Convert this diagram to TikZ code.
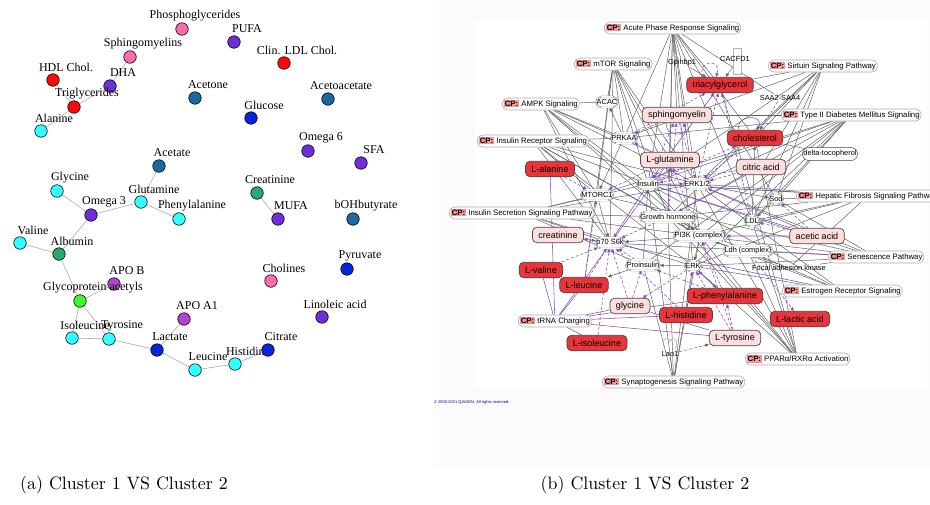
\documentclass[tikz,border=0pt]{standalone}
\usepackage{fontspec}
\usetikzlibrary{shapes.misc,shapes.geometric,arrows.meta,calc}
\newfontfamily\timesf{Liberation Serif}
\newfontfamily\arialf{Liberation Sans}
\definecolor{cpink}{RGB}{248,108,170}
\definecolor{cpurple}{RGB}{108,48,214}
\definecolor{cred}{RGB}{255,8,8}
\definecolor{ccyan}{RGB}{50,255,255}
\definecolor{csteel}{RGB}{28,104,160}
\definecolor{cblue}{RGB}{10,36,222}
\definecolor{cgreen}{RGB}{40,170,110}
\definecolor{clime}{RGB}{60,250,40}
\definecolor{cmag}{RGB}{175,70,200}
\definecolor{molred}{RGB}{232,52,58}
\definecolor{molpink}{RGB}{252,222,222}
\definecolor{cptagc}{RGB}{244,150,150}
\definecolor{purp}{RGB}{128,80,190}
\definecolor{edgegray}{RGB}{100,100,100}
\newcommand\cpt{{\setlength{\fboxsep}{1pt}\colorbox{cptagc}{\bfseries CP:}}}
\pgfdeclarelayer{bgl}
\pgfdeclarelayer{edl}
\pgfsetlayers{bgl,edl,main}
\tikzset{
 amol/.style={circle, draw=black, line width=0.6pt, minimum size=12.5pt, inner sep=0pt},
 alab/.style={font=\timesf\fontsize{12}{13}\selectfont, inner sep=0pt},
 aedge/.style={draw=gray!65, line width=0.6pt},
 mbox/.style={rounded corners=4.5pt, draw=gray!55!black, line width=0.7pt, font=\arialf\fontsize{9}{10}\selectfont, inner xsep=6pt, inner ysep=0pt, minimum height=15.5pt},
 mred/.style={mbox, fill=molred},
 mpink/.style={mbox, fill=molpink},
 prot/.style={rounded rectangle, draw=gray!55!black, double=white, double distance=0.7pt, line width=0.3pt, fill=white, inner xsep=0pt, inner ysep=1pt, minimum height=11pt, font=\arialf\fontsize{7.4}{8}\selectfont},
 protS/.style={rounded rectangle, draw=gray!55!black, line width=0.5pt, fill=white, inner xsep=0pt, inner ysep=1pt, minimum height=13pt, font=\arialf\fontsize{7.4}{8}\selectfont},
 ptext/.style={font=\arialf\fontsize{7.4}{8}\selectfont, inner sep=1pt},
 cpn/.style={rounded rectangle, draw=gray!65, line width=0.6pt, fill=white, inner xsep=0pt, inner ysep=1.5pt, minimum height=12pt, anchor=west, font=\arialf\fontsize{7.8}{8.5}\selectfont},
 ge/.style={draw=edgegray, line width=0.5pt},
 gea/.style={ge, -{Triangle[width=3.2pt,length=3.6pt]}},
 gda/.style={gea, dash pattern=on 3pt off 2pt},
 pe/.style={draw=purp, line width=0.55pt},
 pea/.style={pe, -{Triangle[width=3.2pt,length=3.6pt]}},
 ped/.style={pea, dash pattern=on 3pt off 2pt},
}
\newcommand\anode[5]{\node[amol,fill=#4] (#1) at (#2,#3) {}; \node[alab] (#1l) at ($(#1)+(13,-13)$) {#5};}
\begin{document}
\begin{tikzpicture}[x=1pt,y=-1pt]
\begin{pgfonlayer}{bgl}
\fill[white] (0,0) rectangle (930,504);
\fill[gray!3] (433,0) rectangle (930,468);
\fill[white] (475,20) rectangle (927,388);
\end{pgfonlayer}
\useasboundingbox (0,0) rectangle (930,504);

% ---------------- panel (a)
\anode{aPhos}{182}{29}{cpink}{Phosphoglycerides}
\anode{aPUFA}{234}{42}{cpurple}{PUFA}
\anode{aLDL}{284}{63}{cred}{Clin. LDL Chol.}
\anode{aSph}{130}{57}{cpink}{Sphingomyelins}
\anode{aHDL}{53}{80}{cred}{HDL Chol.}
\anode{aDHA}{110}{86}{cpurple}{DHA}
\anode{aTG}{74}{107}{cred}{Triglycerides}
\anode{aAla}{41}{131}{ccyan}{Alanine}
\anode{aAcetone}{195}{98}{csteel}{Acetone}
\anode{aGlc}{251}{118}{cblue}{Glucose}
\anode{aAcac}{328}{99}{csteel}{Acetoacetate}
\anode{aO6}{308}{151}{cpurple}{Omega 6}
\anode{aSFA}{361}{163}{cpurple}{SFA}
\anode{aAcetate}{159}{166}{csteel}{Acetate}
\anode{aGly}{57}{191}{ccyan}{Glycine}
\anode{aGln}{141}{202}{ccyan}{Glutamine}
\anode{aO3}{91}{215}{cpurple}{Omega 3}
\anode{aPhe}{179}{219}{ccyan}{Phenylalanine}
\anode{aCrea}{257}{193}{cgreen}{Creatinine}
\anode{aMUFA}{278}{219}{cpurple}{MUFA}
\anode{aBOH}{353}{219}{csteel}{bOHbutyrate}
\anode{aVal}{20}{243}{ccyan}{Valine}
\anode{aAlb}{59}{254}{cgreen}{Albumin}
\anode{aApoB}{114}{284}{cmag}{APO B}
\anode{aGlyc}{80}{301}{clime}{Glycoprotein acetyls}
\anode{aApoA}{184}{319}{cmag}{APO A1}
\anode{aIle}{72}{338}{ccyan}{Isoleucine}
\anode{aTyr}{109}{339}{ccyan}{Tyrosine}
\anode{aLac}{157}{350}{cblue}{Lactate}
\anode{aLeu}{195}{370}{ccyan}{Leucine}
\anode{aHis}{235}{364}{ccyan}{Histidine}
\anode{aCit}{268}{350}{cblue}{Citrate}
\anode{aChol}{271}{281}{cpink}{Cholines}
\anode{aPyr}{347}{269}{cblue}{Pyruvate}
\anode{aLin}{322}{317}{cpurple}{Linoleic acid}

\begin{pgfonlayer}{edl}
\draw[aedge] (aHDL) -- (aTG);
\draw[aedge] (aTG) -- (aDHA);
\draw[aedge] (aTG) -- (aAla);
\draw[aedge] (aDHA) -- (aSph);
\draw[aedge] (aAcetate) -- (aGln);
\draw[aedge] (aGly) -- (aO3);
\draw[aedge] (aO3) -- (aGln);
\draw[aedge] (aGln) -- (aPhe);
\draw[aedge] (aO3) -- (aAlb);
\draw[aedge] (aVal) -- (aAlb);
\draw[aedge] (aAlb) -- (aGlyc);
\draw[aedge] (aGlyc) -- (aApoB);
\draw[aedge] (aGlyc) -- (aIle);
\draw[aedge] (aGlyc) -- (aTyr);
\draw[aedge] (aIle) -- (aTyr);
\draw[aedge] (aTyr) -- (aLac);
\draw[aedge] (aLac) -- (aApoA);
\draw[aedge] (aLac) -- (aLeu);
\draw[aedge] (aLeu) -- (aHis);
\draw[aedge] (aHis) -- (aCit);
\draw[aedge] (aCrea) -- (aMUFA);
\end{pgfonlayer}

% ---------------- panel (b)
\node[mred] (triacyl) at (720,85) {triacylglycerol};
\node[mpink] (sphingo) at (677,115) {sphingomyelin};
\node[mred] (chol) at (755,138) {cholesterol};
\node[mpink] (glut) at (670,160) {L-glutamine};
\node[mpink] (citric) at (761,167) {citric acid};
\node[mred] (alanine) at (550,169) {L-alanine};
\node[mpink] (creat) at (558,235) {creatinine};
\node[mred] (valine) at (541,270) {L-valine};
\node[mred] (leucine) at (584,285) {L-leucine};
\node[mpink] (glycine) at (630,306) {glycine};
\node[mred] (phenyl) at (725,296) {L-phenylalanine};
\node[mpink] (acetic) at (817,236) {acetic acid};
\node[mred] (histid) at (686,315) {L-histidine};
\node[mred] (lactic) at (800,319) {L-lactic acid};
\node[mpink] (tyros) at (735,338) {L-tyrosine};
\node[mred] (isoleu) at (597,343) {L-isoleucine};

\node[prot] (ACAC) at (607,102) {ACAC};
\node[prot] (PRKAA) at (624,138) {PRKAA};
\node[prot] (Insulin) at (648,184) {Insulin};
\node[prot] (ERK12) at (697,184) {ERK1/2};
\node[prot] (MTORC1) at (597,195) {MTORC1};
\node[prot] (GH) at (668,217) {Growth hormone};
\node[prot] (p70) at (610,243) {p70 S6k};
\node[prot] (PI3K) at (700,236) {PI3K (complex)};
\node[prot] (LDL) at (752,221) {LDL};
\node[prot] (Sod) at (776,199) {Sod};
\node[prot] (Ldh) at (748,251) {Ldh (complex)};
\node[prot] (ERK) at (693,266) {ERK};
\node[prot] (Proins) at (643,265) {Proinsulin};
\node[protS] (delta) at (830,154) {delta-tocopherol};
\node[ptext] (Gpihbp1) at (682,63) {Gpihbp1};
\node[cylinder, shape border rotate=90, draw=gray!60, fill=white, line width=0.5pt, minimum width=8pt, minimum height=26pt, aspect=0.35, inner sep=0pt] (cacIcon) at (737,61) {};
\node[ptext] (CACFD1) at (735,59) {CACFD1};
\node[ptext] (SAA) at (780,98) {SAA2-SAA4};
\node[ptext] (FAK) at (789,268) {Focal adhesion kinase};
\node[ptext] (Lao1) at (670,354) {Lao1};
\draw[gray!70, line width=0.5pt] (665,349) .. controls (660,340) and (667,335) .. (670,341) .. controls (673,335) and (680,340) .. (675,349);

\node[cpn] (cpAcute) at (604,28) {\cpt\ Acute Phase Response Signaling};
\node[cpn] (cpMTOR) at (574,64) {\cpt\ mTOR Signaling};
\node[cpn] (cpAMPK) at (502,104) {\cpt\ AMPK Signaling};
\node[cpn] (cpInsR) at (477,141) {\cpt\ Insulin Receptor Signaling};
\node[cpn] (cpSirt) at (768,66) {\cpt\ Sirtuin Signaling Pathway};
\node[cpn] (cpT2D) at (781,115) {\cpt\ Type II Diabetes Mellitus Signaling};
\node[cpn] (cpHep) at (796,196) {\cpt\ Hepatic Fibrosis Signaling Pathway};
\node[cpn] (cpInsSec) at (449,213) {\cpt\ Insulin Secretion Signaling Pathway};
\node[cpn] (cpSen) at (828,257) {\cpt\ Senescence Pathway};
\node[cpn] (cpEstr) at (782,291) {\cpt\ Estrogen Receptor Signaling};
\node[cpn] (cpTRNA) at (518,321) {\cpt\ tRNA Charging};
\node[cpn] (cpPPAR) at (745,359) {\cpt\ PPARα/RXRα Activation};
\node[cpn] (cpSyn) at (602,382) {\cpt\ Synaptogenesis Signaling Pathway};

\node[font=\arialf\fontsize{4}{5}\selectfont, text=blue!55!black, anchor=west, inner sep=0pt] (copy) at (434,402) {© 2000-2021 QIAGEN. All rights reserved.};

\begin{pgfonlayer}{edl}
\foreach \t in {Gpihbp1,triacyl,chol,sphingo,glut,PRKAA,Insulin,ERK12,SAA,PI3K,ERK,LDL,GH,Sod} \draw[ge] (cpAcute) -- (\t);
\foreach \t in {ACAC,PRKAA,MTORC1,Insulin,p70,PI3K,ERK12,glut,leucine,GH} \draw[ge] (cpMTOR) -- (\t);
\foreach \t in {ACAC,PRKAA,MTORC1,Insulin,p70,PI3K,ERK12,GH,glut} \draw[ge] (cpAMPK) -- (\t);
\foreach \t in {PRKAA,Insulin,MTORC1,p70,PI3K,ERK12,GH,ERK} \draw[ge] (cpInsR) -- (\t);
\foreach \t in {triacyl,chol,Sod,LDL,PRKAA,ERK12,citric,Insulin,GH} \draw[ge] (cpSirt) -- (\t);
\foreach \t in {sphingo,Insulin,PI3K,PRKAA,ERK12,Sod,ERK,Proins,GH,MTORC1,LDL} \draw[ge] (cpT2D) -- (\t);
\foreach \t in {ERK12,PI3K,Insulin,ERK,FAK,LDL,GH,Sod} \draw[ge] (cpHep) -- (\t);
\foreach \t in {MTORC1,p70,Insulin,PI3K,ERK12,ERK,Proins,GH} \draw[ge] (cpInsSec) -- (\t);
\foreach \t in {ERK12,PI3K,Sod,ERK,MTORC1,p70,Insulin,FAK} \draw[ge] (cpSen) -- (\t);
\foreach \t in {ERK,PI3K,ERK12,Insulin,GH} \draw[ge] (cpEstr) -- (\t);
\foreach \t in {Insulin,ERK,triacyl,chol,GH,PI3K,ERK12,Ldh,LDL} \draw[ge] (cpPPAR) -- (\t);
\foreach \t in {Lao1,ERK,PI3K,ERK12,Insulin,GH,Proins} \draw[ge] (cpSyn) -- (\t);
\foreach \t in {alanine,valine,leucine,isoleu,glycine,histid,phenyl,tyros,glut} \draw[pe] (cpTRNA) -- (\t);
% gray arrows
\draw[gea] (PRKAA) -- (ACAC);
\draw[gea] (PRKAA) -- (MTORC1);
\draw[gea] (MTORC1) -- (p70);
\draw[gea] (Insulin) -- (PI3K);
\draw[gea] (PI3K) -- (ERK);
\draw[gea] (Insulin) -- (ERK12);
\draw[gea] (PI3K) -- (p70);
\draw[gea] (Proins) -- (Insulin);
\draw[gea] (GH) -- (PI3K);
\draw[gea] (Gpihbp1) -- (triacyl);
\draw[gea] (cacIcon) -- (triacyl);
\draw[gea] (LDL) -- (chol);
\draw[gda] (SAA) -- (chol);
\draw[gda] (Lao1) -- (tyros);
\draw[gea] (p70) -- (creat);
\draw[gea] (Proins) -- (leucine);
\draw[gea] (FAK) -- (PI3K);
\draw[gea] (ERK) -- (Proins);
\draw[gea] (ERK12) -- (Sod);
\draw[ge] (delta) -- (chol);
\draw[gea] (Sod) -- (LDL);
\draw[gea] (ERK) -- (phenyl);
% purple dashed arrows
\foreach \s/\t in {glut/PRKAA,glut/MTORC1,glut/Insulin,leucine/MTORC1,leucine/p70,isoleu/p70,valine/p70,creat/p70,glycine/p70,glycine/Proins,alanine/MTORC1,sphingo/PRKAA,sphingo/ERK12,triacyl/Insulin,chol/ERK12,citric/Insulin,citric/ERK12,acetic/Sod,acetic/LDL,phenyl/ERK,phenyl/PI3K,histid/ERK,tyros/ERK,tyros/PI3K,Ldh/lactic,Insulin/triacyl,Insulin/chol,PI3K/glut,GH/glut,ERK12/triacyl,LDL/triacyl,ERK/glycine,Insulin/sphingo,PRKAA/triacyl,Proins/p70,GH/sphingo,phenyl/Proins,histid/p70,tyros/phenyl,GH/p70}
  \draw[ped] (\s) -- (\t);
% purple solid
\draw[pea] (acetic) -- (ERK12);
\draw[pea] (acetic) -- (PI3K);
\draw[pe] (acetic) -- (Insulin);
\draw[pe] (cpHep) -- (Insulin);
\draw[pe] (cpSen) -- (Ldh);
\draw[pe] (tyros) -- (glycine);
\draw[pea] (Insulin) -- (p70);
\draw[pea] (citric) -- (GH);
\draw[pe] (cpEstr) -- (p70);
% self loops
\draw[ped] ([xshift=-18pt]triacyl.north) .. controls +(-4,-18) and +(6,-18) .. ([xshift=-4pt]triacyl.north);
\draw[pea] ([xshift=-16pt]chol.north) .. controls +(-4,-16) and +(8,-16) .. ([xshift=2pt]chol.north);
\draw[ped] ([xshift=-14pt]glut.south) .. controls +(-4,14) and +(6,14) .. ([xshift=0pt]glut.south);
\draw[pea] ([xshift=-10pt]sphingo.south) .. controls +(-4,14) and +(8,14) .. ([xshift=6pt]sphingo.south);
\end{pgfonlayer}

% captions
\node[font=\fontsize{10}{12}\selectfont, scale=1.79] (capA) at (124,485) {(a) Cluster 1 VS Cluster 2};
\node[font=\fontsize{10}{12}\selectfont, scale=1.79] (capB) at (645,485) {(b) Cluster 1 VS Cluster 2};
\end{tikzpicture}
\end{document}
